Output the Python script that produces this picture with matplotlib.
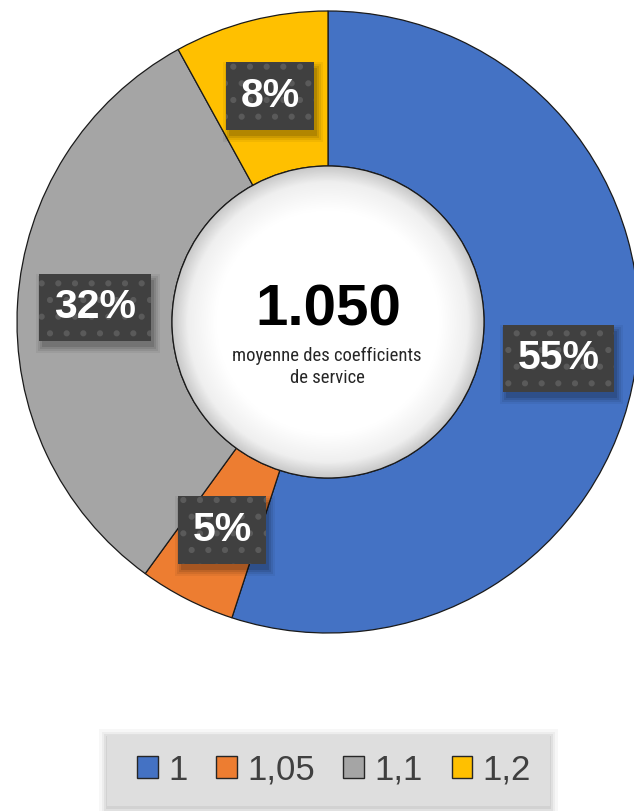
import matplotlib
matplotlib.use("Agg")
import matplotlib.pyplot as plt
import numpy as np
from matplotlib.patches import Circle, Patch, Rectangle
from matplotlib.colors import LinearSegmentedColormap

categories = ["1", "1,05", "1,1", "1,2"]
shares = [55, 5, 32, 8]
colors = ["#4472C4", "#ED7D31", "#A5A5A5", "#FFC000"]
center_value = "1.050"
center_caption = "moyenne des coefficients\nde service"

plt.rcParams["hatch.linewidth"] = 2.0

W, H = 634, 811
fig = plt.figure(figsize=(W / 100, H / 100), dpi=100)
ax = fig.add_axes([0, 0, 1, 1])

cx, cy = 328, H - 322
R, r_in = 311, 156

wedges, texts, autotexts = ax.pie(
    shares, colors=colors, startangle=90, counterclock=False,
    center=(cx, cy), radius=R, autopct="%.0f%%", pctdistance=0.75,
    wedgeprops=dict(width=R - r_in, edgecolor="#1a1a1a", linewidth=0.9),
    textprops=dict(color="white", fontsize=29.5, fontweight="bold",
                   family="Liberation Sans"),
    frame=True)
ax.set_xlim(0, W)
ax.set_ylim(0, H)
ax.set_aspect("equal")
ax.axis("off")

for t in autotexts:
    t.set_zorder(6)
    t.set_ha("center")
    t.set_va("center")
    t.set_bbox(dict(boxstyle="square,pad=0.36", facecolor="#404040",
                    edgecolor="#5a5a5a", linewidth=0, hatch="."))

# inner circle gradient
n = 400
yy, xx = np.mgrid[-1:1:n * 1j, -1:1:n * 1j]
rr = np.sqrt(xx ** 2 + yy ** 2)
cmap = LinearSegmentedColormap.from_list(
    "g", [(0, "#ffffff"), (0.72, "#ffffff"), (0.9, "#efefef"), (1.0, "#c8c8c8")])
im = ax.imshow(rr, cmap=cmap, vmin=0, vmax=1,
               extent=[cx - r_in, cx + r_in, cy - r_in, cy + r_in],
               origin="lower", zorder=3, interpolation="bilinear")
clip = Circle((cx, cy), r_in, transform=ax.transData)
im.set_clip_path(clip)
ax.add_patch(Circle((cx, cy), r_in, facecolor="none", edgecolor="#1a1a1a",
                    linewidth=0.9, zorder=4))

ax.text(cx, H - 311, center_value, fontsize=42, fontweight="bold",
        family="Liberation Sans", ha="center", va="center", color="black", zorder=5)
ax.text(cx - 1, H - 367, center_caption, fontsize=13.4, family="Roboto Condensed",
        ha="center", va="center", color="#262626", linespacing=1.3, zorder=5)

# soft shadows behind label boxes
fig.canvas.draw()
renderer = fig.canvas.get_renderer()
inv = ax.transData.inverted()
for t in autotexts:
    bb = t.get_bbox_patch().get_window_extent(renderer)
    (x0, y0), (x1, y1) = inv.transform([[bb.x0, bb.y0], [bb.x1, bb.y1]])
    for k, a in [(6, 0.05), (4, 0.07), (2, 0.09), (0, 0.12)]:
        ax.add_patch(Rectangle((x0 + 3 - k, y0 - 6 - k), (x1 - x0) + 2 * k,
                               (y1 - y0) + 2 * k, facecolor="black",
                               edgecolor="none", alpha=a, zorder=5.5))

# legend frame
lx0, ly0, lx1, ly1 = 107, H - 806, 550, H - 735
for k, a in [(8, 0.03), (5, 0.04), (3, 0.05), (1, 0.06)]:
    ax.add_patch(Rectangle((lx0 - k, ly0 - k - 2), (lx1 - lx0) + 2 * k,
                           (ly1 - ly0) + 2 * k, facecolor="black",
                           edgecolor="none", alpha=a, zorder=1))
ax.add_patch(Rectangle((lx0, ly0), lx1 - lx0, ly1 - ly0, facecolor="#dedede",
                       edgecolor="none", zorder=2))

handles = [Patch(facecolor=c, edgecolor="#262626", linewidth=1) for c in colors]
leg = fig.legend(handles, categories, loc="center", ncol=4,
                 bbox_to_anchor=(334 / W, 1 - 770 / H),
                 frameon=False,
                 handlelength=0.6, handleheight=0.6, handletextpad=0.3,
                 columnspacing=0.82, borderpad=0.3,
                 prop=dict(family="Liberation Sans", size=25))
leg.set_zorder(10)
for t in leg.get_texts():
    t.set_color("#404040")

fig.savefig("out.png", dpi=100)
